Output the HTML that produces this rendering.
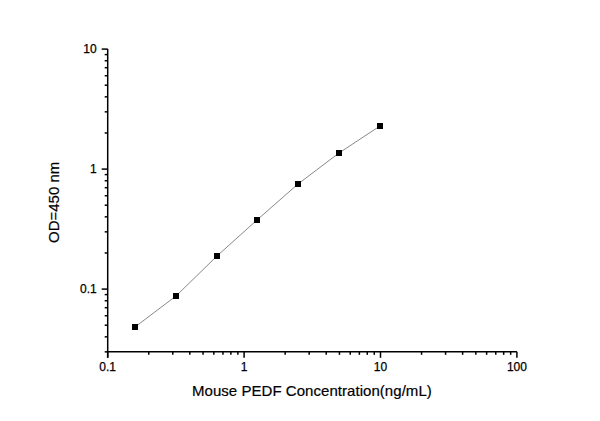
<!DOCTYPE html>
<html><head><meta charset="utf-8"><style>
html,body{margin:0;padding:0;background:#fff;width:600px;height:421px;overflow:hidden;position:relative;font-family:"Liberation Sans",sans-serif;color:#000}
svg{position:absolute;left:0;top:0}
.yl{position:absolute;left:0;width:96.7px;text-align:right;font-size:12px;line-height:14px;-webkit-text-stroke:0.25px #000}
.xl{position:absolute;top:360.2px;width:60px;text-align:center;font-size:12px;line-height:14px;-webkit-text-stroke:0.25px #000}
.xt{position:absolute;left:192px;top:381.5px;letter-spacing:0.045px;font-size:15px;line-height:17px;white-space:nowrap;-webkit-text-stroke:0.2px #000}
.yt{position:absolute;left:45px;top:242.6px;font-size:15px;line-height:17px;white-space:nowrap;transform-origin:0 0;transform:rotate(-90deg);-webkit-text-stroke:0.2px #000}
</style></head><body>
<svg width="600" height="421" viewBox="0 0 600 421">
<line x1="107.7" y1="49.099999999999994" x2="107.7" y2="357.8454494336405" stroke="#000" stroke-width="1.5"/>
<line x1="107.7" y1="351.8454494336405" x2="516.9000000000001" y2="351.8454494336405" stroke="#000" stroke-width="1.5"/>
<line x1="104.7" y1="351.85" x2="107.7" y2="351.85" stroke="#000" stroke-width="1.5"/>
<line x1="104.7" y1="336.85" x2="107.7" y2="336.85" stroke="#000" stroke-width="1.5"/>
<line x1="104.7" y1="325.22" x2="107.7" y2="325.22" stroke="#000" stroke-width="1.5"/>
<line x1="104.7" y1="315.72" x2="107.7" y2="315.72" stroke="#000" stroke-width="1.5"/>
<line x1="104.7" y1="307.69" x2="107.7" y2="307.69" stroke="#000" stroke-width="1.5"/>
<line x1="104.7" y1="300.73" x2="107.7" y2="300.73" stroke="#000" stroke-width="1.5"/>
<line x1="104.7" y1="294.59" x2="107.7" y2="294.59" stroke="#000" stroke-width="1.5"/>
<line x1="101.7" y1="289.10" x2="107.7" y2="289.10" stroke="#000" stroke-width="1.5"/>
<line x1="104.7" y1="252.98" x2="107.7" y2="252.98" stroke="#000" stroke-width="1.5"/>
<line x1="104.7" y1="231.85" x2="107.7" y2="231.85" stroke="#000" stroke-width="1.5"/>
<line x1="104.7" y1="216.85" x2="107.7" y2="216.85" stroke="#000" stroke-width="1.5"/>
<line x1="104.7" y1="205.22" x2="107.7" y2="205.22" stroke="#000" stroke-width="1.5"/>
<line x1="104.7" y1="195.72" x2="107.7" y2="195.72" stroke="#000" stroke-width="1.5"/>
<line x1="104.7" y1="187.69" x2="107.7" y2="187.69" stroke="#000" stroke-width="1.5"/>
<line x1="104.7" y1="180.73" x2="107.7" y2="180.73" stroke="#000" stroke-width="1.5"/>
<line x1="104.7" y1="174.59" x2="107.7" y2="174.59" stroke="#000" stroke-width="1.5"/>
<line x1="101.7" y1="169.10" x2="107.7" y2="169.10" stroke="#000" stroke-width="1.5"/>
<line x1="104.7" y1="132.98" x2="107.7" y2="132.98" stroke="#000" stroke-width="1.5"/>
<line x1="104.7" y1="111.85" x2="107.7" y2="111.85" stroke="#000" stroke-width="1.5"/>
<line x1="104.7" y1="96.85" x2="107.7" y2="96.85" stroke="#000" stroke-width="1.5"/>
<line x1="104.7" y1="85.22" x2="107.7" y2="85.22" stroke="#000" stroke-width="1.5"/>
<line x1="104.7" y1="75.72" x2="107.7" y2="75.72" stroke="#000" stroke-width="1.5"/>
<line x1="104.7" y1="67.69" x2="107.7" y2="67.69" stroke="#000" stroke-width="1.5"/>
<line x1="104.7" y1="60.73" x2="107.7" y2="60.73" stroke="#000" stroke-width="1.5"/>
<line x1="104.7" y1="54.59" x2="107.7" y2="54.59" stroke="#000" stroke-width="1.5"/>
<line x1="101.7" y1="49.10" x2="107.7" y2="49.10" stroke="#000" stroke-width="1.5"/>
<line x1="107.70" y1="351.8454494336405" x2="107.70" y2="357.8454494336405" stroke="#000" stroke-width="1.5"/>
<line x1="148.76" y1="351.8454494336405" x2="148.76" y2="354.8454494336405" stroke="#000" stroke-width="1.5"/>
<line x1="172.78" y1="351.8454494336405" x2="172.78" y2="354.8454494336405" stroke="#000" stroke-width="1.5"/>
<line x1="189.82" y1="351.8454494336405" x2="189.82" y2="354.8454494336405" stroke="#000" stroke-width="1.5"/>
<line x1="203.04" y1="351.8454494336405" x2="203.04" y2="354.8454494336405" stroke="#000" stroke-width="1.5"/>
<line x1="213.84" y1="351.8454494336405" x2="213.84" y2="354.8454494336405" stroke="#000" stroke-width="1.5"/>
<line x1="222.97" y1="351.8454494336405" x2="222.97" y2="354.8454494336405" stroke="#000" stroke-width="1.5"/>
<line x1="230.88" y1="351.8454494336405" x2="230.88" y2="354.8454494336405" stroke="#000" stroke-width="1.5"/>
<line x1="237.86" y1="351.8454494336405" x2="237.86" y2="354.8454494336405" stroke="#000" stroke-width="1.5"/>
<line x1="244.10" y1="351.8454494336405" x2="244.10" y2="357.8454494336405" stroke="#000" stroke-width="1.5"/>
<line x1="285.16" y1="351.8454494336405" x2="285.16" y2="354.8454494336405" stroke="#000" stroke-width="1.5"/>
<line x1="309.18" y1="351.8454494336405" x2="309.18" y2="354.8454494336405" stroke="#000" stroke-width="1.5"/>
<line x1="326.22" y1="351.8454494336405" x2="326.22" y2="354.8454494336405" stroke="#000" stroke-width="1.5"/>
<line x1="339.44" y1="351.8454494336405" x2="339.44" y2="354.8454494336405" stroke="#000" stroke-width="1.5"/>
<line x1="350.24" y1="351.8454494336405" x2="350.24" y2="354.8454494336405" stroke="#000" stroke-width="1.5"/>
<line x1="359.37" y1="351.8454494336405" x2="359.37" y2="354.8454494336405" stroke="#000" stroke-width="1.5"/>
<line x1="367.28" y1="351.8454494336405" x2="367.28" y2="354.8454494336405" stroke="#000" stroke-width="1.5"/>
<line x1="374.26" y1="351.8454494336405" x2="374.26" y2="354.8454494336405" stroke="#000" stroke-width="1.5"/>
<line x1="380.50" y1="351.8454494336405" x2="380.50" y2="357.8454494336405" stroke="#000" stroke-width="1.5"/>
<line x1="421.56" y1="351.8454494336405" x2="421.56" y2="354.8454494336405" stroke="#000" stroke-width="1.5"/>
<line x1="445.58" y1="351.8454494336405" x2="445.58" y2="354.8454494336405" stroke="#000" stroke-width="1.5"/>
<line x1="462.62" y1="351.8454494336405" x2="462.62" y2="354.8454494336405" stroke="#000" stroke-width="1.5"/>
<line x1="475.84" y1="351.8454494336405" x2="475.84" y2="354.8454494336405" stroke="#000" stroke-width="1.5"/>
<line x1="486.64" y1="351.8454494336405" x2="486.64" y2="354.8454494336405" stroke="#000" stroke-width="1.5"/>
<line x1="495.77" y1="351.8454494336405" x2="495.77" y2="354.8454494336405" stroke="#000" stroke-width="1.5"/>
<line x1="503.68" y1="351.8454494336405" x2="503.68" y2="354.8454494336405" stroke="#000" stroke-width="1.5"/>
<line x1="510.66" y1="351.8454494336405" x2="510.66" y2="354.8454494336405" stroke="#000" stroke-width="1.5"/>
<line x1="516.90" y1="351.8454494336405" x2="516.90" y2="357.8454494336405" stroke="#000" stroke-width="1.5"/>
<polyline fill="none" stroke="#888" stroke-width="1" points="135,327 176,296 217,256 257,220 298,184 339,153 380,126"/>
<rect x="132" y="324" width="6" height="6" fill="#000"/>
<rect x="173" y="293" width="6" height="6" fill="#000"/>
<rect x="214" y="253" width="6" height="6" fill="#000"/>
<rect x="254" y="217" width="6" height="6" fill="#000"/>
<rect x="295" y="181" width="6" height="6" fill="#000"/>
<rect x="336" y="150" width="6" height="6" fill="#000"/>
<rect x="377" y="123" width="6" height="6" fill="#000"/>
</svg>
<div class="yl" style="top:41.5px">10</div><div class="yl" style="top:161.5px">1</div><div class="yl" style="top:281.5px">0.1</div><div class="xl" style="left:77.7px">0.1</div><div class="xl" style="left:214.1px">1</div><div class="xl" style="left:350.5px">10</div><div class="xl" style="left:486.9px">100</div>
<div class="xt">Mouse PEDF Concentration(ng/mL)</div>
<div class="yt">OD=450 nm</div>
</body></html>
